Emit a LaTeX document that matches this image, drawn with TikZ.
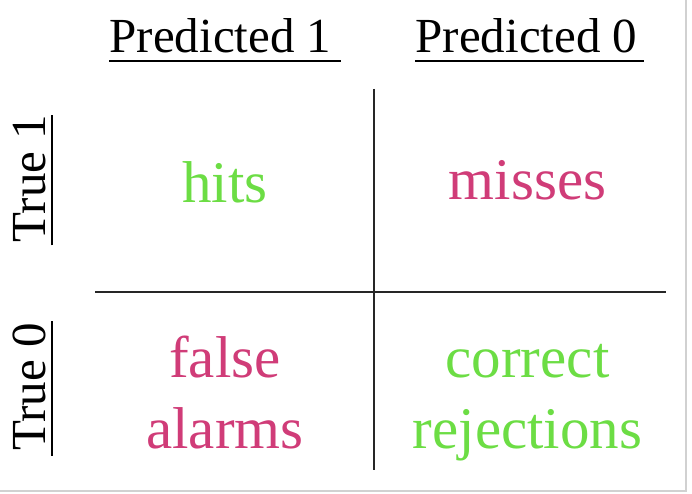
\documentclass[tikz,border=0pt]{standalone}
\usepackage{fontspec}
\setmainfont{Liberation Serif}
\definecolor{hitgreen}{RGB}{108,221,68}
\definecolor{misspink}{RGB}{208,60,120}
\tikzset{
  hdr/.style={inner sep=0pt, font=\fontsize{49}{58}\selectfont, text=black},
  cell/.style={inner sep=0pt, align=center, font=\fontsize{59}{71}\selectfont},
  good/.style={cell, text=hitgreen},
  bad/.style={cell, text=misspink},
  uline/.style={line width=2.2pt, black},
  grid/.style={line width=2pt, black!85},
  frame/.style={line width=1.5pt, black!18}
}
\begin{document}
\begin{tikzpicture}[x=1pt,y=-1pt]
\useasboundingbox (0,0) rectangle (692,494);
\fill[white] (0,0) rectangle (692,494);
\draw[frame] (0,491) -- (686,491) -- (686,0);
% headers
\node[hdr, anchor=base] (p1) at (220.5,53) {Predicted 1};
\node[hdr, anchor=base] (p0) at (526.5,53) {Predicted 0};
\draw[uline] ([yshift=-8pt]p1.base west) -- ([xshift=9pt,yshift=-8pt]p1.base east);
\draw[uline] ([yshift=-8pt]p0.base west) -- ([xshift=6pt,yshift=-8pt]p0.base east);
\node[hdr, anchor=base, rotate=90] (t1) at (45,178.5) {True 1};
\node[hdr, anchor=base, rotate=90] (t0) at (45,387) {True 0};
\draw[uline] ([xshift=7pt,yshift=-3pt]t1.base west) -- ([xshift=7pt]t1.base east);
\draw[uline] ([xshift=7pt,yshift=-5pt]t0.base west) -- ([xshift=7pt,yshift=2pt]t0.base east);
% grid
\coordinate (hl) at (95,292);
\coordinate (hr) at (666,292);
\coordinate (vt) at (374,89);
\coordinate (vb) at (374,470);
\draw[grid] (hl) -- (hr);
\draw[grid] (vt) -- (vb);
% cells
\node[good, anchor=base] (hits) at (225,202) {hits};
\node[bad, anchor=base] (misses) at (527.5,200) {misses};
\node[bad, anchor=base] (fa) at (225,448) {false\\alarms};
\node[good, anchor=base] (cr) at (527.5,448) {correct\\rejections};
\end{tikzpicture}
\end{document}
